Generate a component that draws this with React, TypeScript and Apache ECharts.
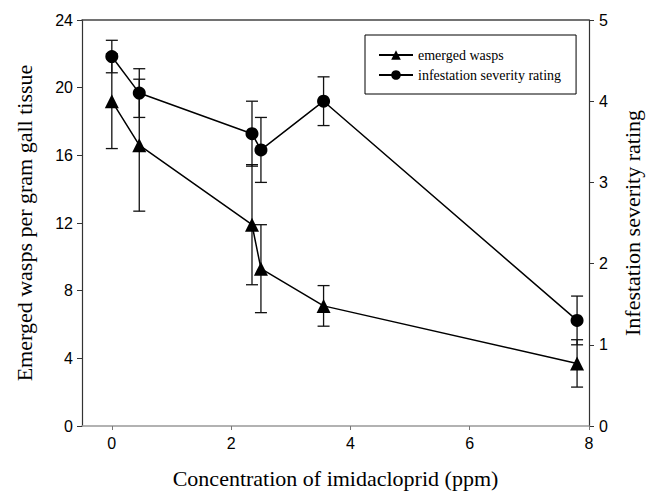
import React, { useEffect, useRef } from "react";
import * as echarts from "echarts";

const concentration = [0, 0.46, 2.35, 2.5, 3.55, 7.8];
const emergedWasps = [19.2, 16.6, 11.9, 9.3, 7.1, 3.7];
const emergedWaspsErr = [2.8, 3.9, 3.55, 2.6, 1.2, 1.4];
const severity = [4.55, 4.1, 3.6, 3.4, 4.0, 1.3];
const severityErr = [0.2, 0.3, 0.4, 0.4, 0.3, 0.3];
const xTicks = [0, 2, 4, 6, 8];
const seriesNames = ["emerged wasps", "infestation severity rating"];

const serif = "Liberation Serif, Times New Roman, serif";
const sans = "Liberation Sans, Arial, sans-serif";

function errorRender(params: any, api: any) {
  const x = api.value(0);
  const y = api.value(1);
  const e = api.value(2);
  const top = api.coord([x, y + e]);
  const bot = api.coord([x, y - e]);
  const hw = 6;
  const style = { stroke: "#111", lineWidth: 1.3 };
  return {
    type: "group",
    children: [
      { type: "line", shape: { x1: top[0], y1: top[1], x2: bot[0], y2: bot[1] }, style },
      { type: "line", shape: { x1: top[0] - hw, y1: top[1], x2: top[0] + hw, y2: top[1] }, style },
      { type: "line", shape: { x1: bot[0] - hw, y1: bot[1], x2: bot[0] + hw, y2: bot[1] }, style },
    ],
  };
}

export default function App() {
  const ref = useRef<HTMLDivElement>(null);
  useEffect(() => {
    if (!ref.current) return;
    const chart = echarts.init(ref.current, null, { renderer: "svg" });
    const waspPts = concentration.map((x, i) => [x, emergedWasps[i]]);
    const sevPts = concentration.map((x, i) => [x, severity[i]]);
    const waspErr = concentration.map((x, i) => [x, emergedWasps[i], emergedWaspsErr[i]]);
    const sevErr = concentration.map((x, i) => [x, severity[i], severityErr[i]]);
    chart.setOption({
      animation: false,
      backgroundColor: "#fff",
      grid: { left: 82, right: 64, top: 20, bottom: 74 },
      legend: {
        data: seriesNames,
        orient: "vertical",
        left: 365,
        top: 35,
        padding: [13, 15, 12, 13],
        itemWidth: 34,
        itemHeight: 12,
        itemGap: 6,
        borderColor: "#000",
        borderWidth: 1,
        textStyle: { fontFamily: serif, fontSize: 14, color: "#000" },
      },
      xAxis: [
        {
          type: "value",
          min: -0.5,
          max: 8,
          position: "bottom",
          axisLine: { show: true, onZero: false, lineStyle: { color: "#999", width: 1.5 } },
          axisTick: { show: true, customValues: xTicks, length: 4, lineStyle: { color: "#777" } },
          axisLabel: { customValues: xTicks, fontSize: 16, color: "#000", fontFamily: sans, margin: 9 },
          splitLine: { show: false },
          name: "Concentration of imidacloprid (ppm)",
          nameLocation: "middle",
          nameGap: 41,
          nameTextStyle: { fontFamily: serif, fontSize: 22, color: "#000" },
        },
        {
          type: "value",
          min: -0.5,
          max: 8,
          position: "top",
          axisLine: { show: true, onZero: false, lineStyle: { color: "#444", width: 1.5 } },
          axisTick: { show: false },
          axisLabel: { show: false },
          splitLine: { show: false },
        },
      ],
      yAxis: [
        {
          type: "value",
          min: 0,
          max: 24,
          interval: 4,
          position: "left",
          axisLine: { show: true, onZero: false, lineStyle: { color: "#333", width: 1.2 } },
          axisTick: { show: true, length: 5, lineStyle: { color: "#333" } },
          axisLabel: { fontSize: 16, color: "#000", fontFamily: sans, margin: 9 },
          splitLine: { show: false },
          name: "Emerged wasps per gram gall tissue",
          nameLocation: "middle",
          nameRotate: 90,
          nameGap: 47,
          nameTextStyle: { fontFamily: serif, fontSize: 22, color: "#000" },
        },
        {
          type: "value",
          min: 0,
          max: 5,
          interval: 1,
          position: "right",
          axisLine: { show: true, onZero: false, lineStyle: { color: "#333", width: 1.2 } },
          axisTick: { show: true, length: 5, lineStyle: { color: "#333" } },
          axisLabel: { fontSize: 16, color: "#000", fontFamily: sans, margin: 10 },
          splitLine: { show: false },
          name: "Infestation severity rating",
          nameLocation: "middle",
          nameRotate: 90,
          nameGap: 32,
          nameTextStyle: { fontFamily: serif, fontSize: 22, color: "#000" },
        },
      ],
      series: [
        {
          type: "custom",
          name: "wasp error",
          xAxisIndex: 0,
          yAxisIndex: 0,
          renderItem: errorRender,
          data: waspErr,
          z: 1,
          silent: true,
        },
        {
          type: "custom",
          name: "severity error",
          xAxisIndex: 0,
          yAxisIndex: 1,
          renderItem: errorRender,
          data: sevErr,
          z: 1,
          silent: true,
        },
        {
          type: "line",
          name: seriesNames[0],
          xAxisIndex: 0,
          yAxisIndex: 0,
          data: waspPts,
          symbol: "triangle",
          symbolSize: 14,
          color: "#000",
          itemStyle: { color: "#000" },
          lineStyle: { color: "#000", width: 1.5 },
          z: 3,
        },
        {
          type: "line",
          name: seriesNames[1],
          xAxisIndex: 0,
          yAxisIndex: 1,
          data: sevPts,
          symbol: "circle",
          symbolSize: 13,
          color: "#000",
          itemStyle: { color: "#000" },
          lineStyle: { color: "#000", width: 1.5 },
          z: 3,
        },
      ],
    });
    return () => chart.dispose();
  }, []);
  return (
    <div
      ref={ref}
      style={{ position: "fixed", left: 0, top: 0, width: 653, height: 500, background: "#fff" }}
    />
  );
}
